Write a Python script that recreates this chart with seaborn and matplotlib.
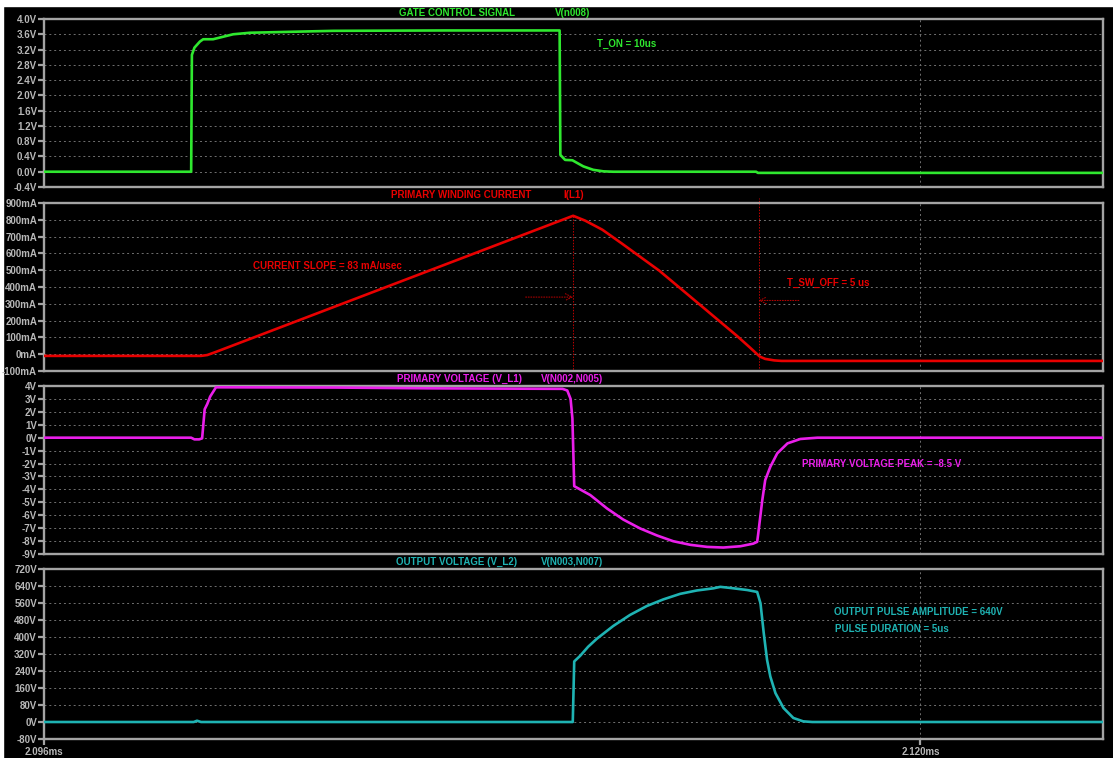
import numpy as np
import pandas as pd
import matplotlib
matplotlib.use("Agg")
import matplotlib.pyplot as plt
from matplotlib.patches import Rectangle
import seaborn as sns

# ---------------------------------------------------------------
# Transient waveforms (time in microseconds)
# ---------------------------------------------------------------
gate_t = [2096.0, 2100.03, 2100.05, 2100.12, 2100.27, 2100.36, 2100.63, 2101.18,
          2101.64, 2103.92, 2107.00, 2110.12, 2110.14, 2110.27, 2110.47, 2110.60,
          2110.77, 2111.04, 2111.32, 2111.59, 2115.50, 2115.55, 2125.0]
gate_v = [0.0, 0.0, 3.06, 3.25, 3.41, 3.47, 3.47, 3.60,
          3.64, 3.69, 3.70, 3.70, 0.44, 0.31, 0.30, 0.23,
          0.14, 0.05, 0.01, 0.0, 0.0, -0.03, -0.03]

current_t = [2096.0, 2100.30, 2100.47, 2100.70, 2110.49, 2110.82, 2111.29, 2111.81,
             2112.85, 2113.92, 2114.96, 2115.32, 2115.48, 2115.60, 2115.75, 2116.00,
             2116.20, 2125.0]
current_ma = [-10, -10, -5, 13, 824, 795, 741, 661,
              497, 302, 112, 42, 10, -14, -28, -37,
              -40, -40]

prim_t = [2096.0, 2100.03, 2100.12, 2100.25, 2100.33, 2100.40, 2100.47, 2100.55,
          2100.71, 2104.0, 2106.5, 2110.20, 2110.33, 2110.42, 2110.47, 2110.52,
          2110.96, 2111.42, 2111.86, 2112.33, 2112.79, 2113.23, 2113.70, 2114.16,
          2114.60, 2115.07, 2115.42, 2115.53, 2115.56, 2115.67, 2115.75, 2115.89,
          2116.08, 2116.36, 2116.71, 2117.18, 2125.0]
prim_v = [0.0, 0.0, -0.13, -0.13, -0.05, 2.2, 2.6, 3.18,
          3.90, 3.88, 3.82, 3.78, 3.65, 3.0, 1.5, -3.75,
          -4.44, -5.48, -6.33, -7.03, -7.57, -8.01, -8.29, -8.45,
          -8.50, -8.40, -8.20, -8.06, -7.40, -4.83, -3.28, -2.25,
          -1.21, -0.44, -0.10, 0.0, 0.0]

out_t = [2096.0, 2100.10, 2100.19, 2100.30, 2110.48, 2110.52, 2110.68, 2110.90,
         2111.14, 2111.59, 2112.05, 2112.51, 2112.96, 2113.42, 2113.88, 2114.33,
         2114.52, 2114.79, 2115.26, 2115.53, 2115.62, 2115.71, 2115.80, 2115.89,
         2116.03, 2116.25, 2116.52, 2116.79, 2117.04, 2125.0]
out_v = [0, 0, 6, 0, 0, 285, 311, 354,
         392, 452, 504, 546, 577, 603, 619, 629,
         636, 631, 621, 612, 559, 418, 293, 214,
         136, 66, 19, 3, 0, 0]

# axis ticks
gate_ticks = [-0.4, 0.0, 0.4, 0.8, 1.2, 1.6, 2.0, 2.4, 2.8, 3.2, 3.6, 4.0]
current_ticks = [-100, 0, 100, 200, 300, 400, 500, 600, 700, 800, 900]
prim_ticks = [-9, -8, -7, -6, -5, -4, -3, -2, -1, 0, 1, 2, 3, 4]
out_ticks = [-80, 0, 80, 160, 240, 320, 400, 480, 560, 640, 720]
time_ticks = [2096, 2120]
time_labels = ["2.096ms", "2.120ms"]
t_start, t_end = 2096.0, 2125.0
t_sw_off = 2115.57

# ---------------------------------------------------------------
# Styling
# ---------------------------------------------------------------
sns.set_theme(style="dark")
plt.rcParams["font.family"] = ["Liberation Sans", "DejaVu Sans"]
plt.rcParams["font.weight"] = "bold"

GREEN = "#2fe82f"
RED = "#e80000"
DARKRED = "#c00000"
MAGENTA = "#ea1fea"
TEAL = "#1fb3b3"
FRAME = "#a4a4a4"
TICKTXT = "#b8b8b8"
GRID = "#707070"
TICKSIZE = 7

W, H = 1113, 758
fig = plt.figure(figsize=(W / 100, H / 100), dpi=100, facecolor="black")

# white margin strips along the top and left edge
fig.add_artist(Rectangle((0, 1 - 6 / H), 1, 6 / H, transform=fig.transFigure,
                         color="white", zorder=0))
fig.add_artist(Rectangle((0, 0), 3 / W, 1, transform=fig.transFigure,
                         color="white", zorder=0))

X0, X1 = 44, 1103

panels = [
    dict(t=gate_t, y=gate_v, color=GREEN, ylim=(-0.4, 4.0), ticks=gate_ticks,
         labels=[f"{v:.1f}V" for v in gate_ticks], box=(19, 187),
         title="GATE CONTROL SIGNAL", sig="V(n008)", ty=13, tx=399, sx=555),
    dict(t=current_t, y=current_ma, color=RED, ylim=(-100, 900), ticks=current_ticks,
         labels=[f"{v}mA" for v in current_ticks], box=(203, 371),
         title="PRIMARY WINDING CURRENT", sig="I(L1)", ty=195, tx=391, sx=563),
    dict(t=prim_t, y=prim_v, color=MAGENTA, ylim=(-9, 4), ticks=prim_ticks,
         labels=[f"{v}V" for v in prim_ticks], box=(386, 554),
         title="PRIMARY VOLTAGE (V_L1)", sig="V(N002,N005)", ty=379, tx=397, sx=541),
    dict(t=out_t, y=out_v, color=TEAL, ylim=(-80, 720), ticks=out_ticks,
         labels=[f"{v}V" for v in out_ticks], box=(569, 739),
         title="OUTPUT VOLTAGE (V_L2)", sig="V(N003,N007)", ty=562, tx=396, sx=541),
]

axes = []
for i, p in enumerate(panels):
    top, bot = p["box"]
    ax = fig.add_axes([X0 / W, (H - bot) / H, (X1 - X0) / W, (bot - top) / H])
    ax.set_facecolor("black")
    df = pd.DataFrame({"t": p["t"], "y": p["y"]})
    sns.lineplot(data=df, x="t", y="y", ax=ax, color=p["color"], linewidth=1.9,
                 estimator=None, sort=False, zorder=3)
    ax.set_xlim(t_start, t_end)
    ax.set_ylim(*p["ylim"])
    ax.set_yticks(p["ticks"])
    ax.set_yticklabels(p["labels"], fontweight="bold")
    ax.set_xticks(time_ticks)
    ax.set_xlabel("")
    ax.set_ylabel("")
    ax.grid(True, axis="both", color=GRID, linestyle=(0, (2, 3)), linewidth=0.7)
    for s in ax.spines.values():
        s.set_visible(True)
        s.set_color(FRAME)
        s.set_linewidth(1.7)
    ax.tick_params(axis="y", which="both", left=True, colors=TICKTXT, color=FRAME,
                   length=4, width=1.6, pad=1, labelsize=TICKSIZE)
    if i < len(panels) - 1:
        ax.tick_params(axis="x", bottom=False, labelbottom=False)
    else:
        ax.set_xticklabels(time_labels, fontweight="bold")
        ax.tick_params(axis="x", bottom=True, colors=TICKTXT, color=FRAME,
                       length=4, width=1.6, pad=2, labelsize=TICKSIZE)
    fig.text(p["tx"] / W, 1 - p["ty"] / H, p["title"], color=p["color"],
             fontsize=7, fontweight="bold", ha="left", va="center")
    fig.text(p["sx"] / W, 1 - p["ty"] / H, p["sig"], color=p["color"],
             fontsize=7, fontweight="bold", ha="left", va="center")
    axes.append(ax)

ax_g, ax_i, ax_p, ax_o = axes

# gate annotation
ax_g.text(2111.15, 3.35, "T_ON = 10us", color=GREEN, fontsize=7,
          fontweight="bold", ha="left", va="center")

# current annotations: slope, peak marker and switch-off marker
ax_i.text(2101.73, 526, "CURRENT SLOPE = 83 mA/usec", color=RED, fontsize=7,
          fontweight="bold", ha="left", va="center")
ax_i.text(2116.36, 423, "T_SW_OFF = 5 us", color=RED, fontsize=7,
          fontweight="bold", ha="left", va="center")
k_peak = int(np.argmax(current_ma))
t_peak = current_t[k_peak]
ax_i.plot([t_peak, t_peak], [current_ma[k_peak], -100], color=DARKRED,
          linestyle=(0, (1.5, 1.5)), linewidth=0.7, zorder=2)
ax_i.axvline(t_sw_off, ymin=0, ymax=1.03, clip_on=False, color=DARKRED,
             linestyle=(0, (1.5, 1.5)), linewidth=0.7, zorder=2)
ax_i.annotate("", xy=(t_peak, 340), xytext=(t_peak - 1.3, 340),
              arrowprops=dict(arrowstyle="->", color=DARKRED, lw=0.7,
                              linestyle=":", shrinkA=0, shrinkB=0))
ax_i.annotate("", xy=(t_sw_off, 320), xytext=(t_sw_off + 1.1, 320),
              arrowprops=dict(arrowstyle="->", color=DARKRED, lw=0.7,
                              linestyle=":", shrinkA=0, shrinkB=0))

# primary voltage annotation
ax_p.text(2116.77, -2.0, "PRIMARY VOLTAGE PEAK = -8.5 V", color=MAGENTA, fontsize=7,
          fontweight="bold", ha="left", va="center")

# output annotations
ax_o.text(2117.62, 518, "OUTPUT PULSE AMPLITUDE = 640V", color=TEAL, fontsize=7,
          fontweight="bold", ha="left", va="center")
ax_o.text(2117.67, 437, "PULSE DURATION = 5us", color=TEAL, fontsize=7,
          fontweight="bold", ha="left", va="center")

fig.savefig("out.png", dpi=100, facecolor="black")
